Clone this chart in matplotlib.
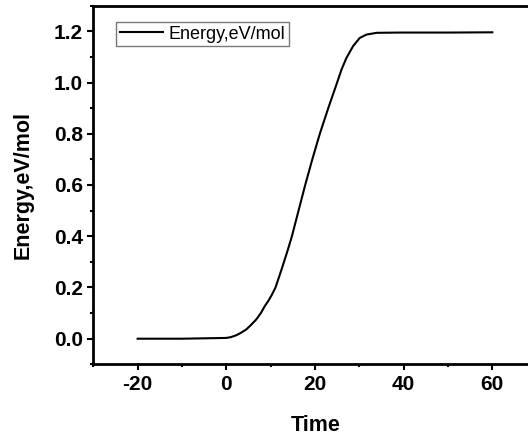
import numpy as np
import matplotlib
matplotlib.use('Agg')
import matplotlib.pyplot as plt
from matplotlib.ticker import MultipleLocator

# values
time = [-20, -10, 0, 1, 2.2, 3.3, 4.5, 5.6, 6.75, 7.8, 8.6, 9.5, 10.3, 11.1,
        12.5, 13.9, 14.8, 16.3, 17.8, 19.4, 21.1, 23.0, 25.0, 26.0, 27.1, 28.6,
        30.1, 31.6, 33.9, 39.1, 50, 60]
energy = [0, 0, 0.003, 0.006, 0.013, 0.023, 0.036, 0.054, 0.075, 0.100, 0.125,
          0.148, 0.172, 0.200, 0.272, 0.348, 0.400, 0.500, 0.600, 0.700, 0.800,
          0.900, 1.000, 1.051, 1.096, 1.142, 1.174, 1.187, 1.194, 1.195, 1.195,
          1.196]
series_name = 'Energy,eV/mol'
x_ticks = [-20, 0, 20, 40, 60]
y_ticks = [0.0, 0.2, 0.4, 0.6, 0.8, 1.0, 1.2]

plt.rcParams['font.family'] = ['Liberation Sans', 'DejaVu Sans']
plt.rcParams['axes.unicode_minus'] = False

fig = plt.figure(figsize=(5.28, 4.36), dpi=100)
ax = fig.add_axes([0.1767, 0.1644, 0.8396, 0.8226])

ax.plot(time, energy, color='black', linewidth=1.5, label=series_name,
        solid_joinstyle='round')

ax.set_xlim(-30, 70)
ax.set_ylim(-0.1, 1.3)
ax.set_xticks(x_ticks)
ax.set_yticks(y_ticks)
ax.set_yticklabels([f'{v:.1f}' for v in y_ticks])
ax.xaxis.set_minor_locator(MultipleLocator(10))
ax.yaxis.set_minor_locator(MultipleLocator(0.1))

for s in ax.spines.values():
    s.set_linewidth(2)
ax.tick_params(which='major', direction='out', length=4, width=1.5, labelsize=15)
ax.tick_params(which='minor', direction='out', length=2.5, width=1.5)
for lab in ax.get_xticklabels() + ax.get_yticklabels():
    lab.set_fontweight('bold')

ax.set_xlabel('Time', fontsize=15.5, fontweight='bold')
ax.set_ylabel('Energy,eV/mol', fontsize=15.5, fontweight='bold')
ax.xaxis.set_label_coords(0.501, -0.142)
ax.yaxis.set_label_coords(-0.135, 0.5)

leg = ax.legend(loc='upper left', bbox_to_anchor=(0.051, 0.954), borderaxespad=0,
                fontsize=13, frameon=True, fancybox=False, handlelength=2.4,
                handletextpad=0.3, borderpad=0.2)
leg.get_frame().set_edgecolor('#555555')
leg.get_frame().set_linewidth(1.0)

fig.savefig('out.png', dpi=100)
